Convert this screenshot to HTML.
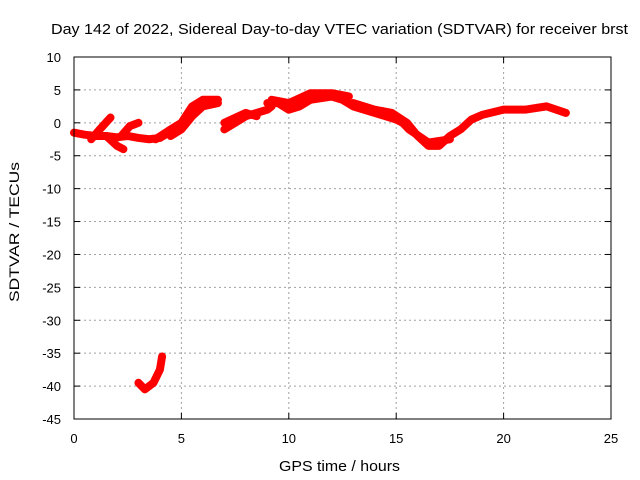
<!DOCTYPE html>
<html><head><meta charset="utf-8"><style>
body{margin:0;background:#fff}
svg{display:block;font-family:"Liberation Sans",sans-serif;font-size:13px}
</style></head><body>
<svg id="c" width="640" height="480">
<rect width="640" height="480" fill="#fff"/>
<g id="grid"></g>
<g id="data"></g>
<rect x="74" y="57" width="537" height="362" fill="none" stroke="#000"/>
<g id="ticks"></g>
<text x="51" y="34" font-size="15" textLength="577" lengthAdjust="spacingAndGlyphs">Day 142 of 2022, Sidereal Day-to-day VTEC variation (SDTVAR) for receiver brst</text>
<text x="279" y="471" font-size="15" textLength="121" lengthAdjust="spacingAndGlyphs">GPS time / hours</text>
<text transform="translate(19,302) rotate(-90)" font-size="14" textLength="140" lengthAdjust="spacingAndGlyphs">SDTVAR / TECUs</text>
</svg>
<script>
const xTicks=[0,5,10,15,20,25];
const yTicks=[10,5,0,-5,-10,-15,-20,-25,-30,-35,-40,-45];
const segT=[
[0,0.5,1,1.5,2,2.5,3,3.5,4,4.4],
[0.8,1.2,1.7],
[1.5,2,2.3],
[2.2,2.6,3],
[3.8,4.5,5,5.5,6,6.7],
[4.5,5,5.5,6,6.7],
[7,7.5,8,8.5,9,9.2],
[7,8,8.5],
[9,9.5,10,10.5,11,12,12.5,13,14,15,15.3],
[9.2,10,11,12,12.8],
[13,14,14.8,15.5,16,16.5,17,17.5,18,18.5,19,20,21,22,22.9],
[15,15.6,16.5,17.5],
[3,3.3,3.7,4,4.1]
];
const segV=[
[-1.5,-1.8,-2,-2,-2.2,-2,-2.3,-2.5,-2.3,-1.5],
[-2.5,-1,0.8],
[-2,-3.5,-4],
[-2,-0.5,0],
[-2.5,-1,0,2.5,3.5,3.5],
[-2,-1,1,2.5,3],
[-1,0,1,1.5,2,2.5],
[0,1.5,1],
[3,3,2,2.5,3.5,4,3.5,2.5,1.5,0.5,0],
[3.5,3,4.5,4.5,4],
[3,2,1.5,0,-2,-3.5,-3.5,-2,-1,0.5,1.2,2,2,2.5,1.5],
[1,-1,-3,-2.5],
[-39.5,-40.5,-39.5,-37.5,-35.5]
];
const X=v=>74+v*537/25, Y=v=>57+(10-v)*362/55;
const ns="http://www.w3.org/2000/svg";
const g=document.getElementById('grid'),t=document.getElementById('ticks'),d=document.getElementById('data');
function mk(p,tag,a){const e=document.createElementNS(ns,tag);for(const k in a)e.setAttribute(k,a[k]);p.appendChild(e);return e;}
xTicks.forEach(v=>{
 if(v>0&&v<25){const l=mk(g,'line',{x1:X(v),x2:X(v),y1:57,y2:419,stroke:'#a0a0a0','stroke-dasharray':'2,3'});
 }
 mk(t,'line',{x1:X(v),x2:X(v),y1:419,y2:413,stroke:'#000'});mk(t,'line',{x1:X(v),x2:X(v),y1:57,y2:63,stroke:'#000'});
 const s=mk(t,'text',{x:X(v),y:443,'text-anchor':'middle'});s.textContent=v;
 
});
yTicks.forEach(v=>{
 if(v<10&&v>-45){const l=mk(g,'line',{x1:74,x2:611,y1:Y(v),y2:Y(v),stroke:'#a0a0a0','stroke-dasharray':'2,3'});
 }
 mk(t,'line',{x1:74,x2:80,y1:Y(v),y2:Y(v),stroke:'#000'});mk(t,'line',{x1:605,x2:611,y1:Y(v),y2:Y(v),stroke:'#000'});
 const s=mk(t,'text',{x:61,y:Y(v)+5,'text-anchor':'end'});s.textContent=v;
 
});
segT.forEach((ts,i)=>{
 const pts=ts.map((tt,j)=>X(tt)+','+Y(segV[i][j])).join(' ');
 const p=mk(d,'polyline',{points:pts,fill:'none',stroke:'#ff0000','stroke-width':8,'stroke-linejoin':'round','stroke-linecap':'round'});
 
 
});
</script>
</body></html>
